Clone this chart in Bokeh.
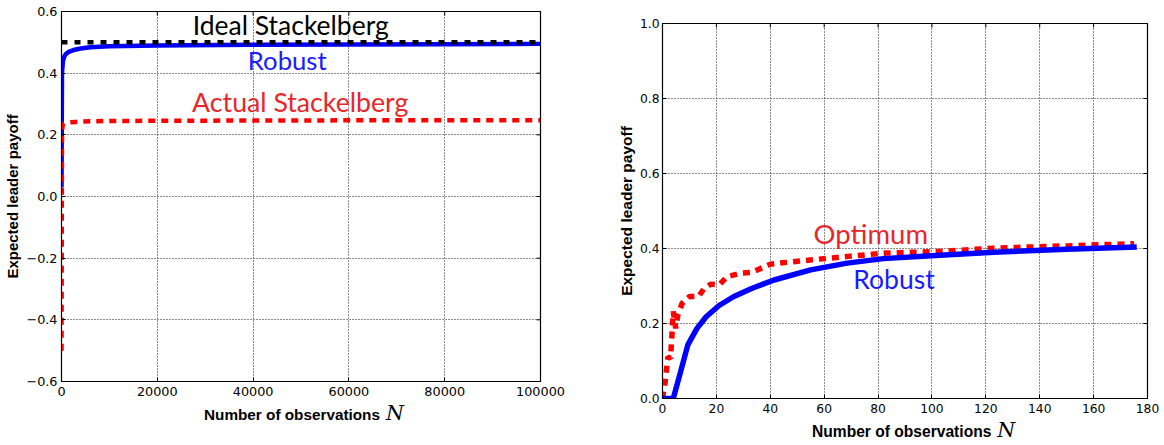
import math
from bokeh.plotting import figure
from bokeh.layouts import row, column
from bokeh.models import FixedTicker, Label, Div, Spacer
from bokeh.embed import file_html
from bokeh.resources import INLINE

# ---------------- data: left panel ----------------
ideal_N = [0, 100000]
ideal_val = [0.5, 0.5]

robust_L_N = [0, 100, 300, 600, 1000, 1500, 2500, 4000, 6000, 10000, 20000, 40000, 60000, 80000, 100000]
robust_L_val = [0.03, 0.40, 0.44, 0.455, 0.463, 0.469, 0.475, 0.480, 0.484, 0.487, 0.490, 0.492, 0.493, 0.494, 0.495]

actual_N = [0, 100, 200, 400, 800, 1500, 3000, 6000, 10000, 30000, 60000, 100000]
actual_val = [-0.5, 0.20, 0.228, 0.235, 0.238, 0.240, 0.242, 0.244, 0.245, 0.246, 0.247, 0.247]

left_xticks = [0, 20000, 40000, 60000, 80000, 100000]
left_xlabels = ["0", "20000", "40000", "60000", "80000", "100000"]
left_yticks = [-0.6, -0.4, -0.2, 0.0, 0.2, 0.4, 0.6]
left_ylabels = ["\u22120.6", "\u22120.4", "\u22120.2", "0.0", "0.2", "0.4", "0.6"]

# ---------------- data: right panel ----------------
opt_N = [0, 1, 2, 3, 3.5, 4, 4.9, 5.7, 7.3, 10, 13.4, 15.5, 18, 21, 24, 29, 33, 40, 46, 55.6, 69, 83, 103, 123, 150, 175]
opt_val = [0.0, 0.045, 0.111, 0.107, 0.17, 0.232, 0.187, 0.223, 0.254, 0.272, 0.272, 0.294, 0.305, 0.303, 0.325,
           0.334, 0.336, 0.358, 0.363, 0.370, 0.379, 0.388, 0.392, 0.401, 0.407, 0.413]

robust_R_N = [0, 4, 6.7, 9.4, 12.8, 16.2, 21, 26.5, 33.3, 41.4, 55, 68.5, 82, 103, 123, 150, 176]
robust_R_val = [0.0, 0.0, 0.071, 0.143, 0.187, 0.218, 0.248, 0.272, 0.294, 0.316, 0.343, 0.361, 0.373,
                0.382, 0.390, 0.398, 0.404]

right_xticks = [0, 20, 40, 60, 80, 100, 120, 140, 160, 180]
right_xlabels = [str(t) for t in right_xticks]
right_yticks = [0.0, 0.2, 0.4, 0.6, 0.8, 1.0]
right_ylabels = ["0.0", "0.2", "0.4", "0.6", "0.8", "1.0"]

xlabel_text = "Number of observations"
ylabel_text = "Expected leader payoff"
xlabel_var = "N"

BLUE = "#0000ff"
RED = "#ff0000"
TXT_RED = "#e8262b"
TXT_BLUE = "#1a1aff"


def style(p, xticks, xlabels, yticks, ylabels, tick_px, label_px, xr, yr):
    p.outline_line_color = "black"
    p.outline_line_width = 1.2
    p.background_fill_color = "white"
    p.border_fill_color = "white"
    p.xaxis.ticker = FixedTicker(ticks=xticks)
    p.yaxis.ticker = FixedTicker(ticks=yticks)
    p.xaxis.major_label_overrides = {t: l for t, l in zip(xticks, xlabels)}
    p.yaxis.major_label_overrides = {t: l for t, l in zip(yticks, ylabels)}
    for ax in (p.xaxis, p.yaxis):
        ax.major_tick_in = 4
        ax.major_tick_out = 0
        ax.minor_tick_line_color = None
        ax.axis_line_color = "black"
        ax.major_tick_line_color = "black"
        ax.major_label_text_font = "DejaVu Sans"
        ax.major_label_text_font_size = tick_px
        ax.major_label_text_color = "black"
    p.xaxis.major_label_standoff = 5
    p.yaxis.major_label_standoff = 4
    p.yaxis.axis_label = ylabel_text
    p.yaxis.axis_label_text_font = "Liberation Sans"
    p.yaxis.axis_label_text_font_style = "bold"
    p.yaxis.axis_label_text_font_size = label_px
    p.yaxis.axis_label_text_color = "black"
    p.yaxis.axis_label_standoff = 2
    p.grid.grid_line_color = "black"
    p.grid.grid_line_dash = "1 2"
    p.grid.grid_line_width = 1
    p.grid.grid_line_alpha = 0.9
    # mirrored inward ticks on the top and right edges (outer half clipped by the frame)
    p.scatter(xticks, [yr[1]] * len(xticks), marker="dash", size=8, angle=math.pi / 2,
              line_color="black", line_width=1)
    p.scatter([xr[1]] * len(yticks), yticks, marker="dash", size=8,
              line_color="black", line_width=1)


def xlabel_div(width, height, pad_left, pad_top, size_txt, size_var):
    html = (
        f'<div style="padding-left:{pad_left}px;padding-top:{pad_top}px;white-space:nowrap;'
        f'font-family:\'Liberation Sans\';font-weight:bold;font-size:{size_txt}px;line-height:20px;color:black">'
        f'{xlabel_text}<span style="font-family:\'DejaVu Serif\';font-style:italic;font-weight:normal;'
        f'font-size:{size_var}px;line-height:20px;margin-left:6px">{xlabel_var}</span></div>'
    )
    return Div(text=html, width=width, height=height, margin=0)


# ---------------- left figure ----------------
L_XR = (0, 100000)
L_YR = (-0.6, 0.6)
pl = figure(width=590, height=403, output_backend="svg", toolbar_location=None,
            x_range=L_XR, y_range=L_YR,
            min_border_left=61, min_border_right=50, min_border_top=11, min_border_bottom=22)
style(pl, left_xticks, left_xlabels, left_yticks, left_ylabels, "12.8px", "15px", L_XR, L_YR)

pl.line(robust_L_N, robust_L_val, line_color=BLUE, line_width=4.5)
pl.line(ideal_N, ideal_val, line_color="black", line_width=4.5, line_dash="6 7")
pl.line(actual_N, actual_val, line_color=RED, line_width=4.5, line_dash="7 6")

pl.add_layout(Label(x=47860, y=0.556, text="Ideal Stackelberg", text_align="center",
                    text_baseline="alphabetic", text_font="Lato", text_font_size="26.5px",
                    text_color="black"))
pl.add_layout(Label(x=47130, y=0.443, text="Robust", text_align="center",
                    text_baseline="alphabetic", text_font="Lato", text_font_size="25.7px",
                    text_color=TXT_BLUE))
pl.add_layout(Label(x=49840, y=0.306, text="Actual Stackelberg", text_align="center",
                    text_baseline="alphabetic", text_font="Lato", text_font_size="26.7px",
                    text_color=TXT_RED))

divL = xlabel_div(590, 42, 204, 0, 15.3, 20.5)

# ---------------- right figure ----------------
R_XR = (0, 180)
R_YR = (0, 1)
pr = figure(width=574, height=408, output_backend="svg", toolbar_location=None,
            x_range=R_XR, y_range=R_YR,
            min_border_left=72, min_border_right=17, min_border_top=11, min_border_bottom=22)
style(pr, right_xticks, right_xlabels, right_yticks, right_ylabels, "12.3px", "15.5px", R_XR, R_YR)
pr.yaxis.major_label_standoff = 3
pr.xaxis.major_label_standoff = 5

pr.line(opt_N, opt_val, line_color=RED, line_width=5.5, line_dash="7 6")
pr.line(robust_R_N, robust_R_val, line_color=BLUE, line_width=5.5)

pr.add_layout(Label(x=77.3, y=0.441, text="Optimum", text_align="center",
                    text_baseline="alphabetic", text_font="Lato", text_font_size="27.5px",
                    text_color=TXT_RED))
pr.add_layout(Label(x=85.9, y=0.319, text="Robust", text_align="center",
                    text_baseline="alphabetic", text_font="Lato", text_font_size="26.5px",
                    text_color=TXT_BLUE))

divR = xlabel_div(574, 25, 222, 0, 15.6, 20.5)

layout = row(column(pl, divL, spacing=0), column(Spacer(width=574, height=12), pr, divR, spacing=0), spacing=0)
open("out.html", "w").write(file_html(layout, INLINE))
